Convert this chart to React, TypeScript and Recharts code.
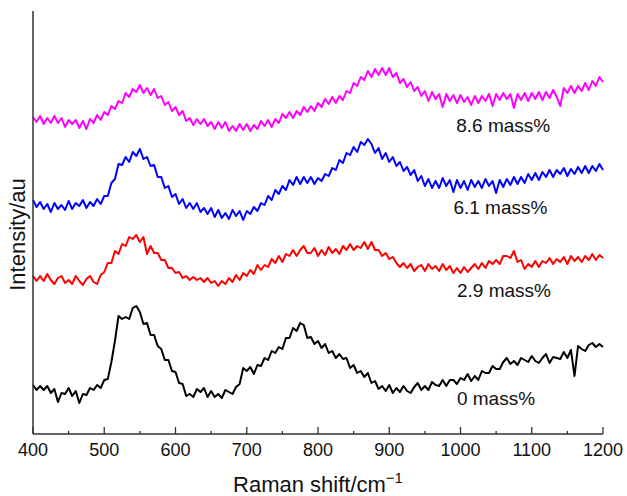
import { LineChart, Line, XAxis, YAxis, ReferenceDot } from "recharts";

// Raman shift grid (cm-1)
const shift = [
  400, 405, 410, 415, 420, 425, 430, 435, 440, 445, 450, 455, 460, 465, 470, 475, 480, 485, 490, 495,
  500, 505, 510, 515, 520, 525, 530, 535, 540, 545, 550, 555, 560, 565, 570, 575, 580, 585, 590, 595,
  600, 605, 610, 615, 620, 625, 630, 635, 640, 645, 650, 655, 660, 665, 670, 675, 680, 685, 690, 695,
  700, 705, 710, 715, 720, 725, 730, 735, 740, 745, 750, 755, 760, 765, 770, 775, 780, 785, 790, 795,
  800, 805, 810, 815, 820, 825, 830, 835, 840, 845, 850, 855, 860, 865, 870, 875, 880, 885, 890, 895,
  900, 905, 910, 915, 920, 925, 930, 935, 940, 945, 950, 955, 960, 965, 970, 975, 980, 985, 990, 995,
  1000, 1005, 1010, 1015, 1020, 1025, 1030, 1035, 1040, 1045, 1050, 1055, 1060, 1065, 1070, 1075, 1080, 1085, 1090, 1095,
  1100, 1105, 1110, 1115, 1120, 1125, 1130, 1135, 1140, 1145, 1150, 1155, 1160, 1165, 1170, 1175, 1180, 1185, 1190, 1195,
  1200,
];

// intensities (au, stacked with offsets)
const mass0 = [
  49, 44, 48, 44, 48, 41, 45, 32, 41, 40, 46, 38, 43, 31, 40, 39, 46, 44, 49, 46,
  54, 55, 72, 93, 118, 115, 117, 115, 126, 128, 122, 110, 111, 99, 99, 88, 85, 74, 74, 63,
  62, 51, 50, 38, 40, 37, 45, 42, 46, 37, 43, 37, 40, 36, 44, 42, 40, 47, 50, 66,
  63, 67, 60, 69, 68, 76, 74, 83, 81, 87, 85, 96, 96, 106, 103, 111, 109, 96, 97, 90,
  93, 86, 90, 81, 83, 76, 80, 75, 76, 66, 69, 61, 63, 57, 61, 51, 53, 45, 48, 43,
  49, 41, 46, 42, 48, 43, 41, 47, 51, 44, 48, 44, 52, 49, 48, 54, 48, 54, 54, 50,
  56, 54, 60, 53, 58, 54, 63, 61, 61, 68, 65, 65, 72, 76, 70, 73, 69, 76, 74, 72,
  78, 73, 71, 76, 80, 71, 77, 76, 75, 82, 76, 84, 58, 88, 85, 83, 89, 91, 87, 90,
  87,
];
const mass29 = [
  158, 153, 158, 153, 160, 154, 150, 156, 158, 151, 154, 150, 158, 153, 149, 155, 158, 152, 150, 159,
  162, 171, 171, 183, 180, 190, 188, 197, 195, 199, 192, 197, 180, 188, 181, 181, 174, 174, 166, 166,
  161, 162, 156, 158, 154, 157, 154, 156, 152, 156, 151, 153, 148, 153, 150, 156, 152, 159, 154, 161,
  158, 164, 160, 169, 164, 169, 167, 175, 171, 178, 172, 180, 178, 184, 178, 184, 188, 181, 181, 186,
  178, 184, 179, 187, 181, 185, 180, 188, 184, 190, 184, 188, 186, 192, 185, 192, 184, 184, 178, 181,
  175, 177, 171, 167, 171, 166, 170, 163, 167, 169, 163, 170, 165, 168, 163, 170, 164, 168, 161, 166,
  161, 167, 162, 166, 170, 165, 171, 166, 173, 170, 174, 170, 178, 178, 176, 183, 172, 174, 165, 170,
  167, 173, 167, 173, 171, 176, 170, 175, 172, 177, 170, 178, 173, 177, 172, 178, 174, 180, 174, 179,
  176,
];
const mass61 = [
  234, 227, 232, 225, 230, 222, 231, 225, 229, 224, 233, 225, 231, 228, 234, 226, 232, 228, 235, 230,
  238, 238, 251, 255, 270, 269, 277, 272, 282, 278, 285, 275, 277, 268, 269, 257, 257, 246, 248, 237,
  240, 230, 235, 226, 231, 225, 231, 222, 226, 220, 226, 217, 224, 216, 221, 215, 224, 218, 223, 214,
  223, 220, 227, 223, 231, 229, 238, 234, 244, 240, 248, 244, 254, 249, 257, 250, 257, 251, 257, 250,
  256, 253, 260, 258, 266, 264, 274, 271, 281, 279, 287, 282, 292, 289, 295, 290, 281, 286, 275, 281,
  272, 277, 268, 272, 263, 267, 259, 264, 253, 258, 248, 255, 246, 253, 246, 256, 248, 254, 242, 254,
  246, 253, 244, 254, 247, 253, 246, 255, 248, 253, 241, 254, 247, 255, 249, 257, 250, 257, 251, 260,
  254, 261, 254, 262, 257, 264, 257, 264, 260, 266, 258, 265, 260, 267, 261, 268, 261, 268, 263, 270,
  264,
];
const mass86 = [
  317, 312, 318, 310, 316, 311, 318, 311, 316, 307, 314, 310, 314, 306, 313, 305, 315, 311, 319, 314,
  322, 319, 328, 325, 333, 331, 341, 337, 345, 342, 349, 341, 346, 339, 345, 336, 338, 329, 332, 323,
  327, 319, 323, 313, 316, 309, 315, 310, 315, 308, 312, 305, 312, 306, 312, 303, 308, 303, 310, 304,
  310, 303, 309, 305, 313, 308, 314, 307, 315, 311, 320, 316, 322, 316, 323, 319, 327, 322, 328, 323,
  331, 327, 335, 330, 337, 331, 338, 334, 343, 341, 351, 348, 357, 354, 363, 357, 365, 359, 366, 359,
  366, 357, 361, 351, 355, 347, 352, 343, 347, 338, 343, 333, 342, 335, 340, 327, 340, 333, 339, 331,
  339, 332, 337, 329, 338, 331, 338, 333, 340, 328, 340, 334, 341, 335, 340, 326, 340, 334, 341, 333,
  341, 335, 342, 334, 342, 336, 344, 337, 328, 346, 341, 348, 341, 348, 343, 351, 344, 353, 348, 357,
  352,
];

const seriesKeys = ["mass0", "mass29", "mass61", "mass86"];
const seriesColors = ["#000000", "#ff0000", "#0000ff", "#ff00ff"];

const xTicks = [400, 450, 500, 550, 600, 650, 700, 750, 800, 850, 900, 950, 1000, 1050, 1100, 1150, 1200];

// curve labels
const labelText = ["0 mass%", "2.9 mass%", "6.1 mass%", "8.6 mass%"];
const labelShift = [995, 995, 990, 994];
const labelLevel = [29, 137, 220, 302];

const data = shift.map((x, i) => ({
  x,
  mass0: mass0[i],
  mass29: mass29[i],
  mass61: mass61[i],
  mass86: mass86[i],
}));

const FONT = '"Liberation Sans", Arial, Helvetica, sans-serif';
const AXIS = "#333";

const XTick = (props: any) => {
  const { x, y, payload } = props;
  const major = payload.value % 100 === 0;
  return (
    <g>
      <line x1={x} x2={x} y1={y} y2={y - (major ? 7 : 3)} stroke={AXIS} strokeWidth={1.3} />
      {major && (
        <text x={x} y={y + 22} textAnchor="middle" fontSize={18} fontFamily={FONT} fill="#111">
          {payload.value}
        </text>
      )}
    </g>
  );
};

export default function App() {
  return (
    <div style={{ position: "absolute", left: 0, top: 0, background: "#fff" }}>
      <LineChart
        width={627}
        height={496}
        data={data}
        margin={{ top: 11, right: 24, left: 0, bottom: 0 }}
      >
        <XAxis
          dataKey="x"
          type="number"
          domain={[400, 1200]}
          ticks={xTicks}
          interval={0}
          tick={<XTick />}
          tickLine={false}
          tickSize={0}
          tickMargin={0}
          height={62}
          axisLine={{ stroke: AXIS, strokeWidth: 1.5 }}
          label={{
            content: (p: any) => {
              const vb = p.viewBox;
              return (
                <text
                  x={vb.x + vb.width / 2}
                  y={vb.y + vb.height - 4}
                  textAnchor="middle"
                  fontSize={22}
                  fontFamily={FONT}
                  fill="#111"
                >
                  Raman shift/cm
                  <tspan dy={-9} fontSize={15}>−1</tspan>
                </text>
              );
            },
          }}
        />
        <XAxis
          xAxisId="top"
          orientation="top"
          dataKey="x"
          type="number"
          domain={[400, 1200]}
          tick={false}
          tickLine={false}
          height={0}
          axisLine={{ stroke: AXIS, strokeWidth: 1.5 }}
        />
        <YAxis
          type="number"
          domain={[0, 423]}
          tick={false}
          tickLine={false}
          width={33}
          axisLine={{ stroke: AXIS, strokeWidth: 1.5 }}
          label={{
            content: (p: any) => {
              const vb = p.viewBox;
              const bx = vb.x + 25;
              const cy = vb.y + vb.height / 2 + 12;
              return (
                <text
                  transform={`translate(${bx},${cy}) rotate(-90)`}
                  textAnchor="middle"
                  fontSize={22}
                  fontFamily={FONT}
                  fill="#111"
                >
                  Intensity/au
                </text>
              );
            },
          }}
        />
        <YAxis
          yAxisId="right"
          orientation="right"
          type="number"
          domain={[0, 423]}
          tick={false}
          tickLine={false}
          width={0}
          axisLine={{ stroke: AXIS, strokeWidth: 1.5 }}
        />
        {seriesKeys.map((k, i) => (
          <Line
            key={k}
            dataKey={k}
            type="linear"
            stroke={seriesColors[i]}
            strokeWidth={2}
            strokeLinejoin="round"
            dot={false}
            activeDot={false}
            isAnimationActive={false}
          />
        ))}
        {labelText.map((t, i) => (
          <ReferenceDot
            key={t}
            x={labelShift[i]}
            y={labelLevel[i]}
            r={0}
            stroke="none"
            fill="none"
            label={{
              content: (p: any) => (
                <text x={p.viewBox.x} y={p.viewBox.y} fontSize={19} fontFamily={FONT} fill="#111">
                  {t}
                </text>
              ),
            }}
          />
        ))}
      </LineChart>
    </div>
  );
}
